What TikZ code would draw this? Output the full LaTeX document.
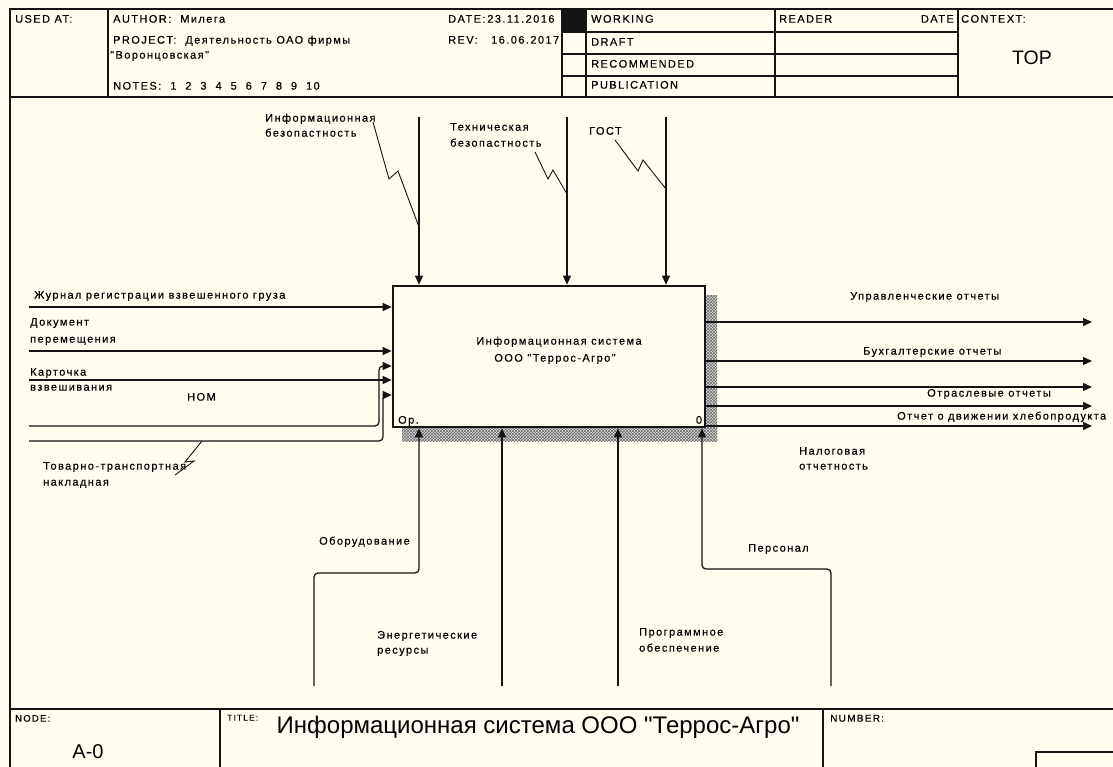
\documentclass[tikz,border=0pt]{standalone}
\usepackage{fontspec}
\setmainfont{Liberation Sans}[Ligatures=TeXOff]
\newfontfamily\smf{Liberation Sans}[LetterSpace=13, FakeBold=0.35, Ligatures=TeXOff]
\usetikzlibrary{arrows.meta,patterns}
\definecolor{paper}{HTML}{FFFCF0}
\definecolor{ink}{HTML}{141414}
\tikzset{
  txt/.style={font=\smf\fontsize{11}{15}\selectfont, inner sep=0pt, anchor=west, text height=7.8pt, text depth=2.5pt, text=black},
  ctxt/.style={txt, anchor=center},
  flow/.style={draw=ink, line width=1.25pt, rounded corners=4pt, -{Triangle[length=9pt,width=8pt]}},
  squig/.style={draw=ink, line width=0.9pt},
  rule/.style={draw=ink, line width=1.25pt},
  func/.style={draw=ink, line width=2.7pt, minimum width=312pt, minimum height=141pt, inner sep=0pt, fill=paper},
  shade/.style={fill=gray!25, postaction={pattern=crosshatch, pattern color=black!60}},
}
\begin{document}
\begin{tikzpicture}[x=1pt,y=-1pt]
\path[use as bounding box, fill=paper] (0,0) rectangle (1113,767);

% ---------- frame ----------
\draw[rule] (10,767) -- (10,9) -- (1113,9);
\draw[rule] (10,97) -- (1113,97);
\draw[rule] (10,709) -- (1113,709);
\draw[rule] (108,9) -- (108,97);
\draw[rule] (562,9) -- (562,97);
\draw[rule] (586,9) -- (586,97);
\draw[rule] (775,9) -- (775,97);
\draw[rule] (958,9) -- (958,97);
\foreach \yy in {32,54,76} \draw[rule] (562,\yy) -- (958,\yy);
\fill[ink] (562,9) rectangle (586,32);
\draw[rule] (220,709) -- (220,767);
\draw[rule] (823,709) -- (823,767);
\draw[rule] (1036,770) -- (1036,752) -- (1116,752);

% ---------- header texts ----------
\node[txt] (usedat) at (15,20) {USED AT:};
\node[txt] (author) at (113,20) {AUTHOR:\ \ Милега};
\node[txt] (project) at (113,41) {PROJECT:\ \ Деятельность ОАО фирмы};
\node[txt] (project2) at (110,56) {"Воронцовская"};
\node[txt] (notes) at (113,87) {NOTES:\ \ 1\ \ 2\ \ 3\ \ 4\ \ 5\ \ 6\ \ 7\ \ 8\ \ 9\ \ 10};
\node[txt] (date) at (448,20) {DATE:\,23.11.2016};
\node[txt] (rev) at (448,41) {REV:\ \ \ 16.06.2017};
\node[txt] (working) at (591,20) {WORKING};
\node[txt] (draft) at (591,43) {DRAFT};
\node[txt] (recom) at (591,65) {RECOMMENDED};
\node[txt] (publ) at (591,86) {PUBLICATION};
\node[txt] (reader) at (779,20) {READER};
\node[txt, anchor=east] (rdate) at (954,20) {DATE};
\node[txt] (context) at (961,20) {CONTEXT:};
\node[font=\fontsize{19.5}{22}\selectfont, inner sep=0pt] (top) at (1032,58) {TOP};

% ---------- function box ----------
\path[shade] (705,295) rectangle (717,441);
\path[shade] (402,427) rectangle (717,441);
\node[func] (box) at (549,356.5) {};
\node[ctxt] (bt1) at (559,342) {Информационная система};
\node[ctxt] (bt2) at (555,359) {ООО "Террос-Агро"};
\node[txt] (bop) at (398,421) {Ор.};
\node[ctxt] (bnum) at (699,421) {0};

% ---------- controls ----------
\coordinate (ct1) at (419,117);
\coordinate (ct2) at (567,117);
\coordinate (ct3) at (666,117);
\draw[flow] (ct1) -- (ct1 |- box.north);
\draw[flow] (ct2) -- (ct2 |- box.north);
\draw[flow] (ct3) -- (ct3 |- box.north);
\node[txt] (c1a) at (265,119) {Информационная};
\node[txt] (c1b) at (265,134) {безопастность};
\node[txt] (c2a) at (450,128) {Техническая};
\node[txt] (c2b) at (450,144) {безопастность};
\node[txt] (c3a) at (589,132) {ГОСТ};
\coordinate (s1) at (373,122);
\coordinate (s1e) at (419,227);
\draw[squig] (s1) -- (389,179) -- (398,171) -- (s1e);
\coordinate (s2) at (535,152);
\coordinate (s2e) at (567,194);
\draw[squig] (s2) -- (548,179) -- (553,170) -- (s2e);
\coordinate (s3) at (615,140);
\coordinate (s3e) at (666,189);
\draw[squig] (s3) -- (638,171) -- (643,160) -- (s3e);

% ---------- inputs ----------
\coordinate (in1) at (29,307);
\coordinate (in2) at (29,351);
\coordinate (in3) at (29,380);
\coordinate (in4) at (29,426);
\coordinate (in5) at (29,441);
\draw[flow] (in1) -- (in1 -| box.west);
\draw[flow] (in2) -- (in2 -| box.west);
\draw[flow] (in3) -- (in3 -| box.west);
\coordinate (in4t) at (29,366);
\coordinate (in5t) at (29,395);
\draw[flow] (in4) -- (379,426) -- (379,366) -- (in4t -| box.west);
\draw[flow] (in5) -- (383,441) -- (383,395) -- (in5t -| box.west);
\node[txt] (i1) at (34,296) {Журнал регистрации взвешенного груза};
\node[txt] (i2a) at (30,323) {Документ};
\node[txt] (i2b) at (30,340) {перемещения};
\node[txt] (i3a) at (30,373) {Карточка};
\node[txt] (i3b) at (30,388) {взвешивания};
\node[txt] (i4) at (187,398) {НОМ};
\node[txt] (i5a) at (43,467) {Товарно-транспортная};
\node[txt] (i5b) at (43,483) {накладная};
\coordinate (s5) at (202,441);
\coordinate (s5e) at (175,475);
\draw[squig] (s5) -- (185,462) -- (194,461) -- (s5e);

% ---------- outputs ----------
\coordinate (o1) at (1092,322);
\coordinate (o2) at (1092,361);
\coordinate (o3) at (1092,387);
\coordinate (o4) at (1092,406);
\coordinate (o5) at (1092,426);
\foreach \o in {o1,o2,o3,o4,o5} \draw[flow] (\o -| box.east) -- (\o);
\node[txt] (ol1) at (850,297) {Управленческие отчеты};
\node[txt] (ol2) at (863,352) {Бухгалтерские отчеты};
\node[txt] (ol3) at (927,394) {Отраслевые отчеты};
\node[txt] (ol4) at (897,417) {Отчет о движении хлебопродукта};
\node[txt] (ol5a) at (799,452) {Налоговая};
\node[txt] (ol5b) at (799,467) {отчетность};

% ---------- mechanisms ----------
\coordinate (m1) at (314,686);
\coordinate (m2) at (502,686);
\coordinate (m3) at (618,686);
\coordinate (m4) at (831,686);
\coordinate (m1t) at (419,686);
\coordinate (m4t) at (702,686);
\draw[flow] (m1) -- (314,573) -- (419,573) -- (m1t |- box.south);
\draw[flow] (m2) -- (m2 |- box.south);
\draw[flow] (m3) -- (m3 |- box.south);
\draw[flow] (m4) -- (831,569) -- (702,569) -- (m4t |- box.south);
\node[txt] (ml1) at (319,542) {Оборудование};
\node[txt] (ml2a) at (377,636) {Энергетические};
\node[txt] (ml2b) at (377,651) {ресурсы};
\node[txt] (ml3a) at (639,633) {Программное};
\node[txt] (ml3b) at (639,649) {обеспечение};
\node[txt] (ml4) at (748,549) {Персонал};

% ---------- footer ----------
\node[txt, font=\smf\fontsize{9.5}{11}\selectfont] (nodel) at (15,719) {NODE:};
\node[txt, font=\smf\fontsize{8.5}{10}\selectfont] (titlel) at (227,718) {TITLE:};
\node[txt, font=\smf\fontsize{10}{11}\selectfont] (numl) at (830,719) {NUMBER:};
\node[font=\fontsize{24}{26}\selectfont, inner sep=0pt] (title) at (538,727) {Информационная система ООО "Террос-Агро"};
\node[font=\fontsize{20}{22}\selectfont, inner sep=0pt] (a0) at (88,752) {A-0};
\end{tikzpicture}
\end{document}
